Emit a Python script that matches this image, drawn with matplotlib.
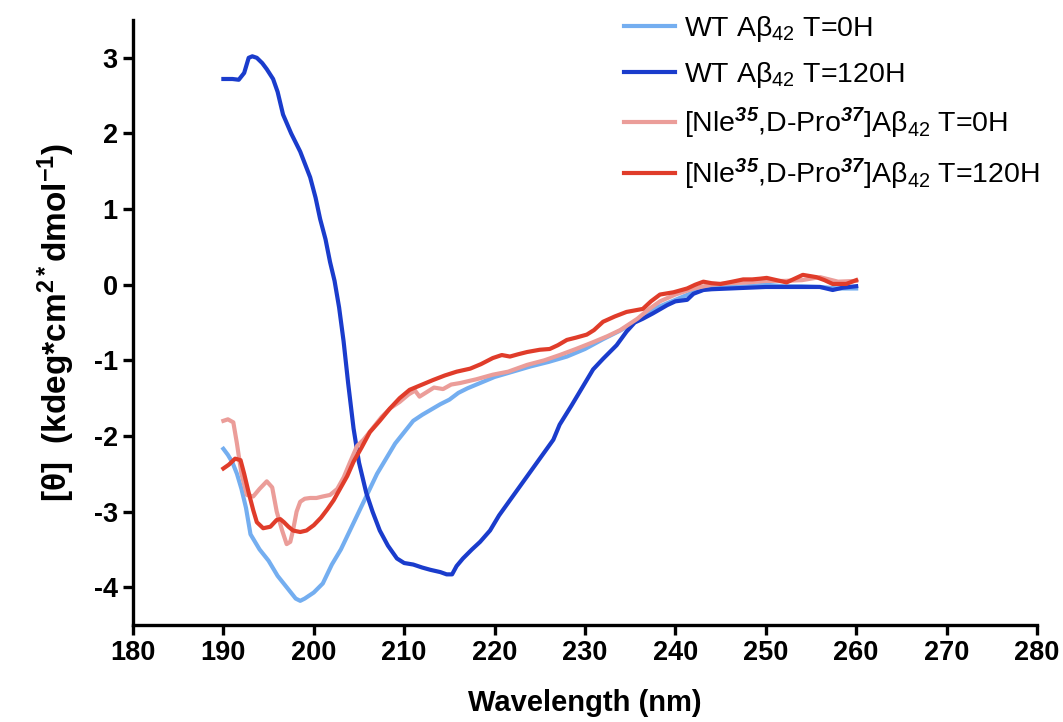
import matplotlib
matplotlib.use("Agg")
import matplotlib.pyplot as plt

plt.rcParams['font.family'] = ['Liberation Sans', 'DejaVu Sans']
plt.rcParams['mathtext.fontset'] = 'custom'
plt.rcParams['mathtext.rm'] = 'Liberation Sans'
plt.rcParams['mathtext.it'] = 'Liberation Sans:italic'
plt.rcParams['mathtext.bf'] = 'Liberation Sans:bold'
plt.rcParams['mathtext.bfit'] = 'Liberation Sans:bold:italic'
plt.rcParams['axes.unicode_minus'] = False

# WT Abeta42 T=0H
wt0_x = [190, 190.5, 191, 191.5, 192, 192.5, 193, 193.5, 194, 195, 196, 197, 198, 198.5, 199, 200, 201, 202,
         203, 204, 205, 206, 207, 208, 209, 210, 211, 212, 213, 214, 215, 216, 217, 218, 219, 220, 222, 224,
         226, 228, 230, 232, 234, 236, 238, 240, 242, 244, 246, 248, 250, 252, 254, 256, 258, 260]
wt0_y = [-2.17, -2.25, -2.35, -2.5, -2.7, -2.95, -3.3, -3.4, -3.5, -3.65, -3.85, -4.0, -4.15, -4.18, -4.15,
         -4.07, -3.95, -3.7, -3.5, -3.25, -3.0, -2.75, -2.5, -2.3, -2.1, -1.95, -1.8, -1.72, -1.65, -1.58,
         -1.52, -1.43, -1.37, -1.32, -1.27, -1.22, -1.15, -1.08, -1.02, -0.95, -0.85, -0.72, -0.6, -0.45,
         -0.3, -0.2, -0.1, -0.03, -0.03, -0.02, 0.0, -0.02, -0.02, -0.03, -0.05, -0.05]

# WT Abeta42 T=120H
wt120_x = [190, 191, 191.7, 192.3, 192.8, 193.2, 193.7, 194.3, 194.8, 195.5, 196, 196.6, 197.5, 198.5, 199.6,
           200.2, 200.7, 201.3, 201.8, 202.3, 202.8, 203.3, 203.8, 204.4, 205, 205.8, 206.5, 207.3, 208.2,
           209.2, 210, 211, 212, 212.9, 214, 214.7, 215.3, 215.8, 216.5, 217.5, 218.4, 219.5, 220.5, 222,
           223.5, 225, 226.5, 227.2, 228.5, 230, 230.9, 232, 233.5, 234.6, 235.5, 236.4, 237.5, 239.1, 240,
           241.3, 242, 243.1, 244, 246, 248, 250, 252, 254, 256, 257.4, 258.5, 260]
wt120_y = [2.72, 2.72, 2.71, 2.8, 3.0, 3.02, 3.0, 2.93, 2.85, 2.72, 2.55, 2.25, 2.0, 1.76, 1.42, 1.15, 0.87,
           0.6, 0.3, 0.05, -0.3, -0.75, -1.3, -1.9, -2.35, -2.75, -3.0, -3.25, -3.45, -3.62, -3.68, -3.7,
           -3.74, -3.77, -3.8, -3.83, -3.83, -3.72, -3.62, -3.5, -3.4, -3.25, -3.05, -2.8, -2.55, -2.3, -2.05,
           -1.85, -1.6, -1.3, -1.12, -0.98, -0.8, -0.62, -0.5, -0.45, -0.38, -0.27, -0.22, -0.2, -0.12, -0.07,
           -0.06, -0.05, -0.04, -0.03, -0.03, -0.03, -0.03, -0.07, -0.04, -0.02]

# [Nle35,D-Pro37]Abeta42 T=0H
nle0_x = [190, 190.5, 191.1, 191.5, 192, 192.6, 193.3, 194, 194.8, 195.4, 195.9, 196.5, 197, 197.4, 197.7,
          198.1, 198.5, 199, 199.6, 200.3, 201, 201.8, 202.6, 203.3, 204, 204.8, 205.5, 206.5, 207.5, 208.5,
          209.5, 210.5, 211.2, 211.7, 212.5, 213.3, 214.3, 215.2, 216.2, 218, 219.8, 221.5, 223.6, 225.5,
          227.2, 229, 230.9, 232.5, 233.9, 235.8, 237, 238.3, 240, 242, 244, 246, 248, 250, 252, 254, 256,
          258, 260]
nle0_y = [-1.8, -1.78, -1.82, -2.1, -2.5, -2.78, -2.8, -2.7, -2.6, -2.68, -3.0, -3.25, -3.43, -3.4, -3.25,
          -3.0, -2.87, -2.83, -2.82, -2.82, -2.8, -2.78, -2.7, -2.55, -2.35, -2.13, -2.05, -1.9, -1.75, -1.63,
          -1.55, -1.45, -1.4, -1.48, -1.42, -1.36, -1.38, -1.32, -1.3, -1.25, -1.19, -1.15, -1.06, -1.0,
          -0.93, -0.85, -0.76, -0.68, -0.6, -0.45, -0.33, -0.22, -0.13, -0.05, 0.0, 0.02, 0.03, 0.05, 0.05,
          0.06, 0.1, 0.04, 0.05]

# [Nle35,D-Pro37]Abeta42 T=120H
nle120_x = [190, 190.6, 191.3, 191.9, 192.3, 192.8, 193.3, 193.7, 194.4, 195.2, 195.9, 196.3, 196.7, 197.2,
            197.7, 198.5, 199.2, 200, 200.8, 201.5, 202.2, 202.9, 203.7, 204.4, 205.3, 206.2, 207.3, 208.4,
            209.5, 210.6, 211.8, 213.2, 214.5, 215.8, 217.3, 218.5, 219.8, 220.8, 221.7, 222.6, 223.6, 225,
            226.1, 227, 228, 229, 230.2, 231, 232, 233.3, 234.6, 235.5, 236.4, 237.3, 238.3, 239.8, 241.3,
            242.2, 243.1, 244, 245, 246.3, 247.5, 248.5, 249.4, 250.1, 251.2, 252.3, 253.2, 254.1, 255.6,
            256.5, 257.4, 258.9, 260]
nle120_y = [-2.43, -2.38, -2.3, -2.32, -2.5, -2.75, -2.98, -3.14, -3.22, -3.2, -3.11, -3.1, -3.14, -3.2,
            -3.25, -3.27, -3.25, -3.18, -3.08, -2.97, -2.85, -2.7, -2.53, -2.34, -2.15, -1.95, -1.8, -1.64,
            -1.5, -1.39, -1.33, -1.26, -1.2, -1.15, -1.11, -1.05, -0.97, -0.93, -0.95, -0.92, -0.89, -0.86,
            -0.85, -0.8, -0.73, -0.7, -0.66, -0.6, -0.49, -0.42, -0.36, -0.34, -0.32, -0.22, -0.13, -0.1,
            -0.05, 0.0, 0.04, 0.02, 0.01, 0.04, 0.07, 0.07, 0.08, 0.09, 0.06, 0.03, 0.08, 0.13, 0.1, 0.06,
            0.01, 0.01, 0.06]

labels = [r"WT A$\mathrm{\beta}_{42}$ T=0H",
          r"WT A$\mathrm{\beta}_{42}$ T=120H",
          r"[Nle$^{\mathbfit{35}}$,D-Pro$^{\mathbfit{37}}$]A$\mathrm{\beta}_{42}$ T=0H",
          r"[Nle$^{\mathbfit{35}}$,D-Pro$^{\mathbfit{37}}$]A$\mathrm{\beta}_{42}$ T=120H"]
colors = ['#74aef0', '#1a3ccc', '#eb9d99', '#e03c2a']

fig = plt.figure(figsize=(10.63, 7.22), dpi=100)
ax = fig.add_axes([0.1251, 0.1343, 0.8504, 0.838])

series = [(wt0_x, wt0_y), (wt120_x, wt120_y), (nle0_x, nle0_y), (nle120_x, nle120_y)]
for (xs, ys), lab, col in zip(series, labels, colors):
    ax.plot(xs, ys, color=col, lw=3.0, label=lab, solid_joinstyle='round')

ax.set_xlim(180, 280)
ax.set_ylim(-4.5, 3.5)
ax.set_xticks(range(180, 281, 10))
ax.set_yticks(range(-4, 4))

for s in ['top', 'right']:
    ax.spines[s].set_visible(False)
for s in ['left', 'bottom']:
    ax.spines[s].set_linewidth(2.4)
ax.tick_params(direction='out', length=7, width=2.4, labelsize=19.5, pad=4)
for t in ax.get_xticklabels() + ax.get_yticklabels():
    t.set_fontweight('bold')

ax.set_xlabel("Wavelength (nm)", fontsize=21, fontweight='bold', labelpad=16)
ax.set_ylabel(r"[θ]  (kdeg*cm$^{\mathbf{2*}}$dmol$^{\mathbf{-1}}$)", fontsize=24,
              fontweight='bold', labelpad=12)

ax.legend(loc='upper left', bbox_to_anchor=(0.568, 1.008), bbox_transform=fig.transFigure,
          frameon=False, fontsize=20.5, handlelength=1.8, handletextpad=0.3, labelspacing=0.55,
          borderpad=0.2)

fig.savefig("out.png", dpi=100)
